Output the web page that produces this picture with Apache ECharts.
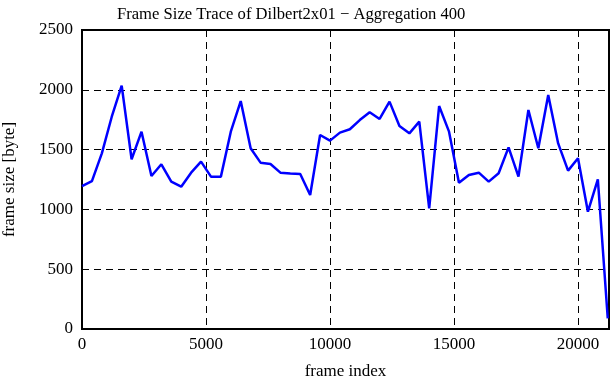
<!DOCTYPE html>
<html>
<head>
<meta charset="utf-8">
<script src="https://cdn.jsdelivr.net/npm/echarts@6/dist/echarts.min.js"></script>
<style>html,body{margin:0;padding:0;background:#fff}#c{width:611px;height:380px}</style>
</head>
<body>
<div id="c"></div>
<script>
const titleText = "Frame Size Trace of Dilbert2x01 \u2212 Aggregation 400";
const xName = "frame index";
const yName = "frame size [byte]";
const aggregation = 400;
const frameSizes = [1195,1237,1469,1775,2035,1419,1650,1279,1377,1232,1190,1307,1399,1274,1274,1650,1906,1511,1391,1380,1307,1301,1296,1120,1622,1575,1642,1670,1747,1812,1756,1901,1697,1636,1734,1009,1864,1650,1223,1288,1307,1232,1302,1519,1274,1831,1511,1957,1552,1324,1427,981,1252,89];
const xTicks = [0,5000,10000,15000,20000];
const yTicks = [0,500,1000,1500,2000,2500];

const data = frameSizes.map((v,i)=>[i*aggregation, v]);
const font = "'Liberation Serif', 'Times New Roman', serif";
const chart = echarts.init(document.getElementById('c'), null, {renderer:'canvas'});
chart.setOption({
  animation:false,
  backgroundColor:'#fff',
  title:{text:titleText,left:112,top:1,textStyle:{fontFamily:font,fontSize:16.6,fontWeight:'normal',color:'#000'}},
  grid:{left:82,top:30,width:527,height:299,show:true,borderColor:'#000',borderWidth:2,backgroundColor:'transparent',
    containLabel:false,outerBoundsMode:'none'},
  xAxis:{type:'value',min:0,max:21250,interval:5000,
    name:xName,nameLocation:'middle',nameGap:34,
    nameTextStyle:{fontFamily:font,fontSize:17,color:'#000'},
    axisLine:{show:true,lineStyle:{color:'#000',width:2}},
    axisTick:{show:false},
    axisLabel:{fontFamily:font,fontSize:17,color:'#000',margin:7,showMaxLabel:false,
      formatter:v=>xTicks.includes(v)?String(v):''},
    splitLine:{show:true,lineStyle:{color:'#000',type:[7,5],width:1}}},
  yAxis:{type:'value',min:0,max:2500,interval:500,
    name:yName,nameLocation:'middle',nameGap:64,nameRotate:90,
    nameTextStyle:{fontFamily:font,fontSize:17,color:'#000'},
    axisLine:{show:true,lineStyle:{color:'#000',width:2}},
    axisTick:{show:false},
    axisLabel:{fontFamily:font,fontSize:17,color:'#000',margin:9,
      formatter:v=>yTicks.includes(v)?String(v):''},
    splitLine:{show:true,lineStyle:{color:'#000',type:[7,5],width:1}}},
  series:[{type:'line',data:data,showSymbol:false,symbol:'none',
    lineStyle:{color:'#0000ff',width:2.5},clip:true}]
});
</script>
</body>
</html>
